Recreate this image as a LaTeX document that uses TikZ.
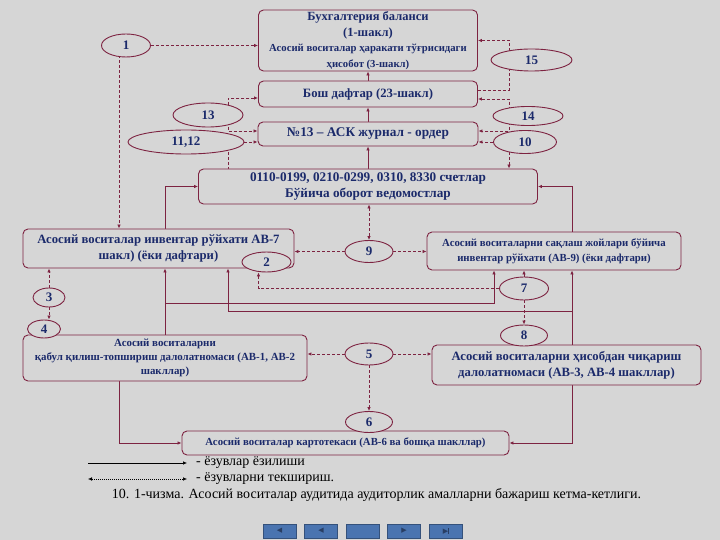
\documentclass[tikz,border=0pt]{standalone}
\usepackage{fontspec}
\setmainfont{Liberation Serif}
\newfontfamily\symfont{DejaVu Sans}
\usepackage{tikz}
\usetikzlibrary{arrows.meta,positioning,calc,shapes.geometric}
\definecolor{bgc}{RGB}{214,214,214}
\definecolor{frame}{RGB}{125,35,65}
\definecolor{ink}{RGB}{27,42,107}
\definecolor{navb}{RGB}{74,116,176}
\definecolor{navg}{RGB}{40,62,100}
\pgfdeclarelayer{back}
\pgfsetlayers{back,main}

\begin{document}
\begin{tikzpicture}[>={Latex[length=4pt,width=3.5pt]}, x=1pt, y=-1pt,
  box/.style={draw=frame, line width=0.9pt, rounded corners=5pt, fill=bgc, text=ink, align=center, inner sep=1pt},
  num/.style={draw=frame, line width=0.9pt, ellipse, fill=bgc, text=ink, font=\bfseries\fontsize{13}{13}\selectfont, inner sep=0pt},
  flow/.style={draw=frame, line width=0.8pt, ->},
  check/.style={draw=frame, line width=0.8pt, dash pattern=on 3pt off 2pt},
  legtext/.style={anchor=west, inner sep=0pt, font=\fontsize{14}{16}\selectfont},
  navbtn/.style={draw=navb!70!black, fill=navb, minimum width=33pt, minimum height=14pt, inner sep=0pt, text=navg, font=\symfont\fontsize{7}{7}\selectfont}]
\useasboundingbox (0,0) rectangle (720,540);

\node[box, minimum width=219pt, minimum height=61pt, font=\bfseries\fontsize{12.5}{15.5}\selectfont] (bal) at (368,40.5)
  {Бухгалтерия баланси\\(1-шакл)\\
   \fontsize{10.7}{13}\selectfont Асосий воситалар ҳаракати тўғрисидаги\\\fontsize{10.7}{13}\selectfont ҳисобот (3-шакл)};
\node[box, minimum width=219pt, minimum height=26pt, font=\bfseries\fontsize{12.7}{14}\selectfont] (bosh) at (368,94) {Бош дафтар (23-шакл)};
\node[box, minimum width=220pt, minimum height=24pt, font=\bfseries\fontsize{13.3}{14}\selectfont] (jur) at (368,134) {№13 – АСК журнал - ордер};
\node[box, minimum width=339pt, minimum height=35pt, font=\bfseries\fontsize{13.2}{15.5}\selectfont] (obr) at (368,186.5)
  {0110-0199, 0210-0299, 0310, 8330 счетлар\\Бўйича оборот ведомостлар};
\node[box, minimum width=271pt, minimum height=39pt, font=\bfseries\fontsize{12.7}{15.5}\selectfont] (inv) at (158.5,248.5)
  {Асосий воситалар инвентар рўйхати АВ-7\\шакл) (ёки дафтари)};
\node[box, minimum width=254pt, minimum height=38pt, font=\bfseries\fontsize{10.8}{15}\selectfont] (sak) at (554,251)
  {Асосий воситаларни сақлаш жойлари бўйича\\инвентар рўйхати (АВ-9) (ёки дафтари)};
\node[box, minimum width=284pt, minimum height=46pt, font=\bfseries\fontsize{10.9}{14}\selectfont] (qab) at (165,358)
  {Асосий воситаларни\\қабул қилиш-топшириш далолатномаси (АВ-1, АВ-2\\шакллар)};
\node[box, minimum width=269pt, minimum height=40pt, font=\bfseries\fontsize{12.7}{16}\selectfont] (his) at (566.5,365)
  {Асосий воситаларни ҳисобдан чиқариш\\далолатномаси (АВ-3, АВ-4 шакллар)};
\node[box, minimum width=327pt, minimum height=24pt, font=\bfseries\fontsize{10.8}{12}\selectfont] (kart) at (345.5,443)
  {Асосий воситалар картотекаси (АВ-6 ва бошқа шакллар)};

\node[num, minimum width=49pt, minimum height=23pt] (n1) at (126,45.5) {1};
\node[num, minimum width=81pt, minimum height=22pt] (n15) at (531.5,60) {15};
\node[num, minimum width=70pt, minimum height=24pt] (n13) at (208,115) {13};
\node[num, minimum width=70pt, minimum height=19pt] (n14) at (528,116) {14};
\node[num, minimum width=116pt, minimum height=24pt] (n1112) at (186,142) {11,12};
\node[num, minimum width=63pt, minimum height=23pt] (n10) at (525,142) {10};
\node[num, minimum width=48pt, minimum height=22pt] (n9) at (369,251.5) {9};
\node[num, minimum width=49pt, minimum height=20pt] (n2) at (266.5,262) {2};
\node[num, minimum width=49pt, minimum height=23pt] (n7) at (524,288.5) {7};
\node[num, minimum width=32pt, minimum height=19pt] (n3) at (49,297.5) {3};
\node[num, minimum width=33pt, minimum height=18pt] (n4) at (44,329) {4};
\node[num, minimum width=47pt, minimum height=21pt] (n8) at (524,335.5) {8};
\node[num, minimum width=48pt, minimum height=22pt] (n5) at (369,354) {5};
\node[num, minimum width=47pt, minimum height=21pt] (n6) at (369,422) {6};

\coordinate (lv) at (119,0);
\coordinate (ld) at (228,0);
\coordinate (rd) at (509,0);
\coordinate (rf) at (572,0);
\coordinate (j1) at (165,303);
\coordinate (j2) at (572,311);

\begin{pgfonlayer}{back}
\fill[bgc] (0,0) rectangle (720,540);
\draw[flow] (obr) -- (jur);
\draw[flow] (jur) -- (bosh);
\draw[flow] (bosh) -- (bal);
\draw[flow] (inv.north -| qab) |- (obr.west);
\draw[flow] (sak.north -| rf) |- (obr.east);
\draw[flow] (qab.north) -- (qab |- inv.south);
\draw[flow] (j1) -| ([xshift=-60pt]sak.south);
\draw[flow] (his.north -| rf) -- (rf |- sak.south);
\draw[flow] (j2) -| (ld |- inv.south);
\draw[flow] (qab.south -| lv) |- (kart.west);
\draw[flow] (his.south -| rf) |- (kart.east);

\draw[check,->] (n1) -- (n1 -| bal.west);
\draw[check,->] (lv |- n1) -- (lv |- inv.north);
\draw[check,->] ([yshift=4pt]bosh.east) -| (rd |- bal.east) -- (bal.east);
\draw[check,<->] ([yshift=-5pt]bosh.east) -| (rd |- n14) |- ([yshift=3pt]jur.east);
\draw[check,->] (n10) -- (n10 -| jur.east);
\draw[check,->] (rd |- n10) -- (rd |- obr.north);
\draw[check,<->] ([yshift=-4pt]bosh.west) -| (ld |- n13) |- ([yshift=3pt]jur.west);
\draw[check,->] (n1112) -- (n1112 -| jur.west);
\draw[check] (ld |- n1112) -- (ld |- obr.north);
\draw[check,<->] (obr.south -| n9) -- (n9.north);
\draw[check,->] (n9) -- (n9 -| inv.east);
\draw[check,->] (n9) -- (n9 -| sak.west);
\draw[check,->] (n7) -| ([xshift=-8pt]n2.south);
\draw[check,->] (n7) -- (n7 |- sak.south);
\draw[check,->] (n7) -- (n8.north);
\draw[check,->] (n3) -- (n3 |- inv.south);
\draw[check,->] (n3) -- (n3 |- n4.north);
\draw[check,->] (n5) -- (n5 -| qab.east);
\draw[check,->] (n5) -- (n5 -| his.west);
\draw[check,->] (n5) -- (n6.north);
\end{pgfonlayer}

\coordinate (k1) at (88,463);
\coordinate (k2) at (187,463);
\coordinate (k3) at (88,479);
\coordinate (k4) at (187,479);
\draw[->, line width=0.6pt] (k1) -- (k2);
\draw[<->, line width=0.5pt, dash pattern=on 1pt off 1pt] (k3) -- (k4);
\node[legtext] (lg1) at (196,463) {- ёзувлар ёзилиши};
\node[legtext] (lg2) at (196,479) {- ёзувларни текшириш.};
\node[font=\fontsize{14}{16}\selectfont, inner sep=0pt] (cap) at (376.5,495)
  {10. 1-чизма. Асосий воситалар аудитида аудиторлик амалларни бажариш кетма-кетлиги.};

\node[navbtn] (nb1) at (279.5,531) {◀};
\node[navbtn] (nb2) at (321,531) {◀};
\node[navbtn] (nb3) at (363,531) {};
\node[navbtn] (nb4) at (404,531) {▶};
\node[navbtn] (nb5) at (446,531) {▶\rule{0.8pt}{6pt}};
\end{tikzpicture}
\end{document}
